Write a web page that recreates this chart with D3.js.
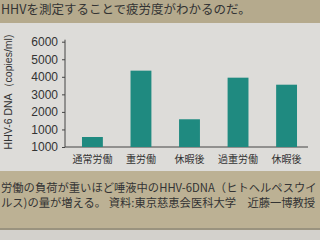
<!DOCTYPE html>
<html lang="ja">
<head>
  <meta charset="UTF-8" />
  <title>HHV-6 DNA</title>
  <script src="https://d3js.org/d3.v7.min.js"></script>
  <style>
    body { margin: 0; padding: 0; background: #d3d1cc; }
    svg { display: block; }
    text { fill: #333; }
  </style>
</head>
<body>
  <svg width="320" height="240"></svg>
  <script>
    const categories = ["通常労働", "重労働", "休暇後", "過重労働", "休暇後"];
    const values = [570, 4350, 1580, 3950, 3550];
    const tickValues = [0, 1000, 2000, 3000, 4000, 5000, 6000];
    const tickLabels = ["1000", "1000", "2000", "3000", "4000", "5000", "6000"];
    const headline = "HHVを測定することで疲労度がわかるのだ。";
    const caption = [
      "労働の負荷が重いほど唾液中のHHV-6DNA（ヒトヘルペスウイ",
      "ルス)の量が増える。 資料:東京慈恵会医科大学　近藤一博教授"
    ];

    const svg = d3.select("svg");
    const jp = "'Noto Sans CJK JP', sans-serif";

    // paper background
    svg.append("rect").attr("width", 320).attr("height", 240).attr("fill", "#d3d1cc");
    svg.append("rect").attr("width", 320).attr("height", 23).attr("fill", "#b5aa8d");
    svg.append("rect").attr("y", 171).attr("width", 320).attr("height", 58).attr("fill", "#bcb194");
    svg.append("rect").attr("y", 228).attr("width", 320).attr("height", 2).attr("fill", "#9a937f");
    svg.append("rect").attr("y", 23).attr("width", 320).attr("height", 148).attr("fill", "#dddcd9");

    svg.append("text")
      .attr("x", 1).attr("y", 14)
      .attr("font-family", jp).attr("font-size", 12.5)
      .text(headline);

    svg.selectAll(".cap")
      .data(caption)
      .enter().append("text")
      .attr("class", "cap")
      .attr("x", 1).attr("y", (d, i) => 192 + i * 15)
      .attr("font-family", jp).attr("font-size", 11.3)
      .text(d => d);

    const plotLeft = 65, plotBottom = 147, plotTop = 41.7;

    const y = d3.scaleLinear().domain([0, 6000]).range([plotBottom, plotTop]);
    const x = d3.scaleBand().domain(d3.range(categories.length))
      .range([plotLeft, 314]).paddingInner(0.57).paddingOuter(0.35);

    const yAxis = svg.append("g")
      .attr("transform", `translate(${plotLeft},0)`)
      .call(d3.axisLeft(y).tickValues(tickValues).tickSize(3).tickSizeOuter(0)
        .tickFormat((d, i) => tickLabels[i]));
    yAxis.select(".domain").attr("stroke", "#444").attr("d", `M0,${plotBottom}V${plotTop - 2}`);
    yAxis.selectAll(".tick line").attr("stroke", "#444");
    yAxis.selectAll(".tick text")
      .attr("font-family", "'Liberation Sans', Arial, sans-serif")
      .attr("font-size", 12).attr("fill", "#333").attr("x", -7);

    svg.append("line")
      .attr("x1", plotLeft).attr("x2", 308)
      .attr("y1", plotBottom).attr("y2", plotBottom)
      .attr("stroke", "#444");

    svg.selectAll(".bar")
      .data(values)
      .enter().append("rect")
      .attr("class", "bar")
      .attr("x", (d, i) => x(i))
      .attr("width", x.bandwidth())
      .attr("y", d => y(d))
      .attr("height", d => plotBottom - y(d))
      .attr("fill", "#1f8a80");

    svg.selectAll(".cat")
      .data(categories)
      .enter().append("text")
      .attr("class", "cat")
      .attr("x", (d, i) => x(i) + x.bandwidth() / 2)
      .attr("y", 163)
      .attr("text-anchor", "middle")
      .attr("font-family", jp).attr("font-size", 10)
      .text(d => d);

    svg.append("text")
      .attr("transform", "translate(12,92) rotate(-90)")
      .attr("text-anchor", "middle")
      .attr("font-family", "'Liberation Sans', Arial, sans-serif")
      .attr("font-size", 10.5)
      .text("HHV-6 DNA（copies/ml)");
  </script>
</body>
</html>
